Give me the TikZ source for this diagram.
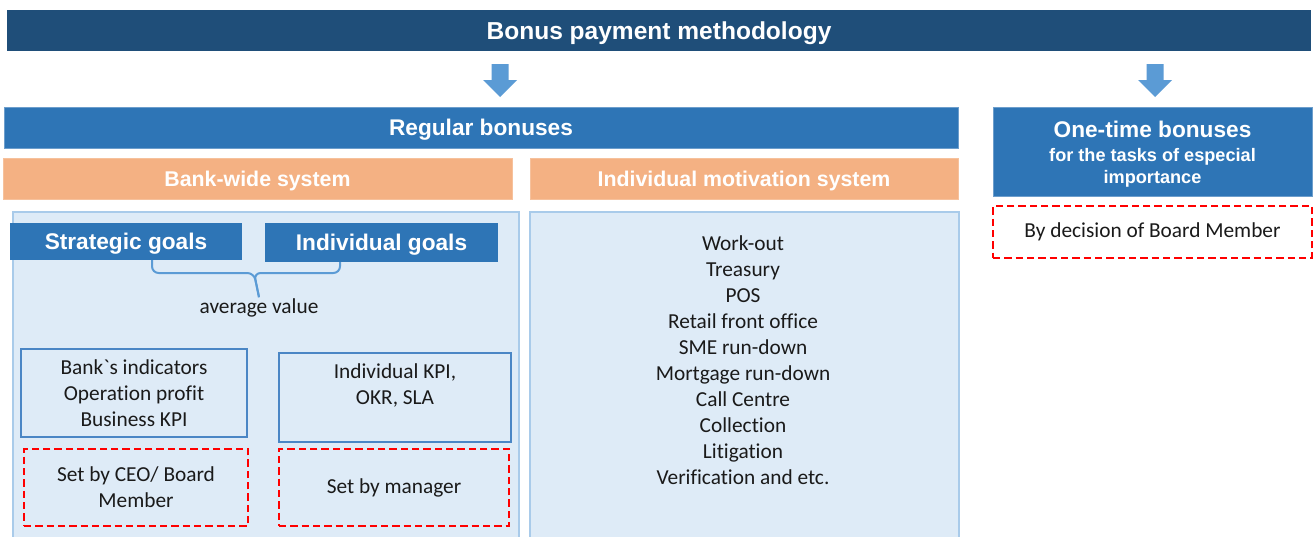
\documentclass[tikz,border=0pt]{standalone}
\usepackage{fontspec}
\setmainfont{Carlito}[Ligatures=NoCommon]
\newfontfamily\arialfont{Liberation Sans}
\usepackage{tikz}
\usetikzlibrary{positioning}

\definecolor{darkbar}{HTML}{1F4E79}
\definecolor{midblue}{HTML}{2E75B6}
\definecolor{arrowblue}{HTML}{5B9BD5}
\definecolor{peach}{HTML}{F4B183}
\definecolor{panelfill}{HTML}{DEEBF7}
\definecolor{paneledge}{HTML}{A9CBEA}
\definecolor{boxedge}{HTML}{4A86C5}
\definecolor{bodytext}{HTML}{1A1A1A}

\newcommand{\titlefont}{\arialfont\bfseries\fontsize{18.4}{22}\selectfont}
\newcommand{\headfont}{\arialfont\bfseries\fontsize{17}{20}\selectfont}
\newcommand{\subfont}{\arialfont\bfseries\fontsize{16}{19}\selectfont}
\newcommand{\smallhead}{\arialfont\bfseries\fontsize{13.6}{16.5}\selectfont}
\newcommand{\bodyfont}{\fontsize{16}{19.5}\selectfont}

\begin{document}
\begin{tikzpicture}[x=0.75pt,y=-0.75pt,inner sep=0pt,
                    every node/.style={align=center}]
  \tikzstyle{bar}=[fill=midblue,draw=midblue!70,line width=0.6pt,text=white,font=\headfont,
                   text height=12.2pt,text depth=0pt]
  \tikzstyle{peachbar}=[fill=peach,draw=peach!80,line width=0.6pt,text=white,font=\subfont,
                        minimum height=30.75pt,text height=11.5pt,text depth=0pt]
  \tikzstyle{panel}=[fill=panelfill,draw=paneledge,line width=1.1pt]
  \tikzstyle{goal}=[fill=midblue,text=white,font=\headfont,text height=12.2pt,text depth=0pt]
  \tikzstyle{kpibox}=[draw=boxedge,line width=0.9pt,text=bodytext,font=\bodyfont]
  \tikzstyle{setbox}=[draw=red,line width=1pt,dash pattern=on 5.5pt off 3pt,
                      text=bodytext,font=\bodyfont]
  \tikzstyle{blockarrow}=[fill=arrowblue]
  \tikzstyle{brace line}=[draw=arrowblue,line width=1.5pt,rounded corners=5pt]

  \useasboundingbox[fill=white] (0,0) rectangle (1313,536);

  % top of the chart
  \node[fill=darkbar,text=white,font=\titlefont,text height=13.2pt,text depth=0pt,
        minimum width=978pt,minimum height=30.75pt] (title) at (659,30.5)
        {Bonus payment methodology};
  \coordinate (tip1) at (500,97);
  \coordinate (tip2) at (1155,97);
  \foreach \t in {tip1,tip2}
    \fill[blockarrow] (\t) ++(-8.5,-33) -- ++(17,0) -- ++(0,16) -- ++(8.5,0)
                      -- (\t) -- ++(-17,-17) -- ++(8.5,0) -- cycle;

  \node[bar,minimum width=715.5pt,minimum height=30.75pt]  (regular) at (481,127.5)
        {Regular bonuses};
  \node[bar,minimum width=239.25pt,minimum height=66.75pt] (onetime) at (1152.5,151.5) {};
  \node[text=white,font=\smallhead] (onetimetext) at ([yshift=-2pt]onetime.center)
        {{\headfont One-time bonuses}\\[1.5pt]for the tasks of especial\\importance};
  \node[setbox,minimum width=239.25pt,minimum height=39pt] (board)  at (1152.5,232)
        {By decision of Board Member};

  \node[peachbar,minimum width=381.75pt] (bankwide) at (257.5,178.5) {Bank-wide system};
  \node[peachbar,minimum width=321pt]    (motiv)    at (744,178.5)   {Individual motivation system};

  % bank-wide system
  \node[panel,minimum width=379.5pt,minimum height=253.5pt] (leftpanel)  at (266,381) {};
  \node[panel,minimum width=321.75pt,minimum height=253.5pt] (rightpanel) at (744.5,381) {};

  \node[goal,minimum width=174pt,minimum height=27.75pt]  (strategic) at (126,241.5)
        {Strategic goals};
  \node[goal,minimum width=174.75pt,minimum height=29.25pt] (individual) at (381.5,242.5)
        {Individual goals};
  \node[text=bodytext,font=\bodyfont,inner sep=1pt] (avg) at (259,308) {average value};

  \coordinate (brL) at (152,260);
  \coordinate (brR) at (340,262);
  \coordinate (brM) at (254,273);
  \draw[brace line] (brL) |- (brM) -- (avg.north);
  \draw[brace line] (brR) |- (brM) -- (avg.north);

  \node[kpibox,minimum width=169.5pt,minimum height=66pt]   (bankkpi) at (134,393)
        {Bank\textasciigrave s indicators\\Operation profit\\Business KPI};
  \node[kpibox,minimum width=174pt,minimum height=66.75pt]  (indkpi)  at (395,397.5)
        {Individual KPI,\\OKR, SLA\\\mbox{}};
  \node[setbox,minimum width=168pt,minimum height=57.75pt]  (ceo)     at (136,487.5)
        {Set by CEO/ Board\\Member};
  \node[setbox,minimum width=172.5pt,minimum height=57.75pt] (manager) at (394,487.5)
        {Set by manager};

  % individual motivation system
  \node[text=bodytext,font=\bodyfont] (units) at (743,360)
        {Work-out\\Treasury\\POS\\Retail front office\\SME run-down\\
         Mortgage run-down\\Call Centre\\Collection\\Litigation\\Verification and etc.};

\end{tikzpicture}
\end{document}
